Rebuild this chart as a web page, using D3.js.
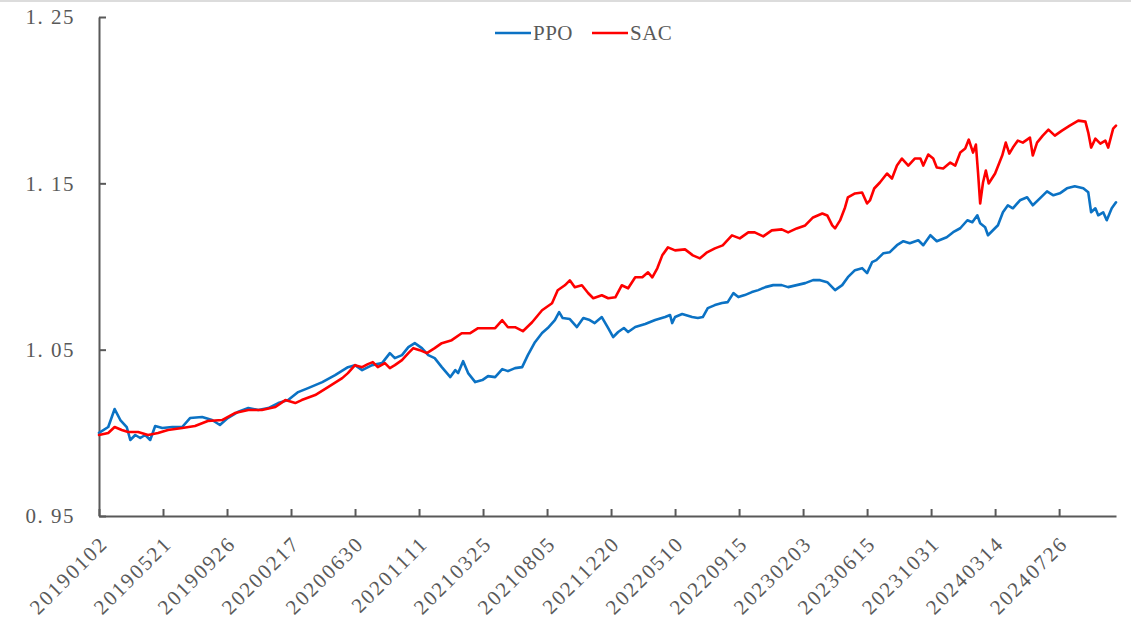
<!DOCTYPE html>
<html>
<head>
<meta charset="utf-8">
<script src="https://cdn.jsdelivr.net/npm/d3@7"></script>
<style>
  html, body { margin: 0; padding: 0; background: #fff; }
  svg { display: block; }
  text { font-family: "Liberation Serif", "DejaVu Serif", serif; fill: #595959; }
</style>
</head>
<body>
<svg id="chart" width="1131" height="627"></svg>
<script>
// ---- data (trading-day index from 20190102, net value) ----
const tickLabels = ["20190102","20190521","20190926","20200217","20200630","20201111","20210325","20210805","20211220","20220510","20220915","20230203","20230615","20231031","20240314","20240726"];
const tickStep = 90;          // trading days between labelled ticks
const lastDay = 1430;         // index of last trading day
const yTicks = [0.95, 1.05, 1.15, 1.25];
const yTickLabels = ["0. 95", "1. 05", "1. 15", "1. 25"];
const seriesNames = ["PPO", "SAC"];

const ppoDay = [0,13,22,30,39,44,51,58,65,72,79,89,103,117,128,145,159,170,181,195,210,224,238,252,266,280,294,314,332,350,360,370,384,398,409,416,426,435,444,454,463,472,482,494,501,505,512,519,529,539,547,557,567,575,585,595,603,613,623,631,641,647,652,662,672,681,690,697,707,716,723,730,738,744,754,768,782,796,803,806,810,820,834,842,849,856,866,876,884,892,899,908,918,927,937,948,960,969,981,993,1004,1014,1024,1035,1045,1053,1063,1073,1080,1087,1093,1103,1112,1122,1131,1140,1152,1159,1169,1178,1192,1201,1211,1221,1228,1235,1239,1246,1250,1257,1264,1271,1278,1285,1295,1305,1313,1323,1333,1342,1351,1361,1372,1384,1391,1395,1401,1405,1412,1417,1424,1430];
const ppoVal = [1.0000,1.0035,1.0143,1.0077,1.0035,0.9957,0.9987,0.9969,0.9987,0.9957,1.0041,1.0029,1.0035,1.0035,1.0089,1.0095,1.0077,1.0047,1.0089,1.0125,1.0149,1.0137,1.0149,1.0179,1.0197,1.0245,1.0269,1.0305,1.0347,1.0395,1.0407,1.0377,1.0407,1.0419,1.0479,1.0449,1.0467,1.0515,1.0539,1.0509,1.0467,1.0449,1.0395,1.0335,1.0377,1.0359,1.0431,1.0359,1.0305,1.0317,1.0341,1.0335,1.0383,1.0371,1.0389,1.0395,1.0467,1.0545,1.0600,1.0630,1.0678,1.0726,1.0690,1.0684,1.0636,1.0690,1.0678,1.0660,1.0696,1.0630,1.0576,1.0606,1.0630,1.0606,1.0636,1.0654,1.0678,1.0696,1.0708,1.0660,1.0696,1.0714,1.0696,1.0690,1.0696,1.0750,1.0768,1.0780,1.0786,1.0840,1.0816,1.0828,1.0846,1.0858,1.0876,1.0888,1.0888,1.0876,1.0888,1.0900,1.0918,1.0918,1.0906,1.0858,1.0888,1.0936,1.0978,1.0990,1.0960,1.1026,1.1038,1.1080,1.1086,1.1128,1.1152,1.1140,1.1158,1.1128,1.1188,1.1152,1.1176,1.1206,1.1230,1.1278,1.1266,1.1308,1.1260,1.1236,1.1188,1.1218,1.1248,1.1326,1.1368,1.1350,1.1398,1.1416,1.1368,1.1410,1.1452,1.1428,1.1440,1.1470,1.1482,1.1470,1.1446,1.1326,1.1350,1.1308,1.1326,1.1278,1.1350,1.1386];

const sacDay = [0,13,22,32,41,55,69,83,97,117,135,153,173,191,210,229,248,262,276,285,304,322,342,350,360,370,378,385,392,402,409,416,426,435,442,451,461,472,482,496,510,522,533,547,557,567,575,585,596,609,623,637,645,655,662,669,679,688,695,707,716,726,735,744,754,764,772,778,785,792,800,810,824,835,845,855,866,877,890,901,913,922,934,946,960,969,981,993,1004,1017,1024,1031,1035,1042,1049,1053,1063,1073,1080,1084,1090,1098,1108,1115,1122,1129,1138,1147,1155,1159,1166,1173,1178,1187,1197,1204,1211,1218,1223,1229,1233,1236,1239,1243,1247,1251,1260,1270,1275,1280,1285,1292,1299,1309,1313,1319,1327,1335,1344,1354,1365,1377,1387,1391,1395,1401,1408,1415,1419,1426,1430];
const sacVal = [0.9987,0.9999,1.0035,1.0017,1.0005,1.0005,0.9987,0.9999,1.0017,1.0029,1.0041,1.0071,1.0077,1.0119,1.0137,1.0137,1.0155,1.0197,1.0179,1.0197,1.0227,1.0275,1.0329,1.0359,1.0407,1.0395,1.0413,1.0425,1.0395,1.0419,1.0389,1.0407,1.0437,1.0479,1.0509,1.0497,1.0479,1.0509,1.0539,1.0557,1.0599,1.0599,1.0629,1.0629,1.0629,1.0677,1.0635,1.0635,1.0611,1.0665,1.0737,1.0779,1.0857,1.0887,1.0917,1.0875,1.0887,1.0839,1.0809,1.0827,1.0809,1.0815,1.0887,1.0869,1.0935,1.0935,1.0965,1.0935,1.0989,1.1067,1.1115,1.1097,1.1103,1.1067,1.1049,1.1085,1.1109,1.1127,1.1187,1.1169,1.1205,1.1205,1.1181,1.1217,1.1223,1.1205,1.1229,1.1247,1.1295,1.1319,1.1307,1.1247,1.1229,1.1277,1.1355,1.1415,1.1439,1.1445,1.1379,1.1397,1.1469,1.1505,1.1559,1.1529,1.1607,1.1649,1.1607,1.1649,1.1649,1.1607,1.1673,1.1649,1.1595,1.1589,1.1625,1.1607,1.1685,1.1709,1.1763,1.1685,1.1733,1.1565,1.1379,1.1505,1.1577,1.1499,1.1559,1.1667,1.1745,1.1679,1.1715,1.1757,1.1745,1.1775,1.1667,1.1745,1.1787,1.1823,1.1787,1.1817,1.1847,1.1877,1.1871,1.1805,1.1715,1.1769,1.1739,1.1757,1.1715,1.1829,1.1847];

const colors = ["#0B72C4", "#FF0000"];

// ---- layout ----
const svg = d3.select("#chart");
const mLeft = 99, mRight = 1116, mTop = 17, mBottom = 516;

const x = d3.scaleLinear().domain([0, lastDay]).range([mLeft, mRight]);
const y = d3.scaleLinear().domain([0.95, 1.25]).range([mBottom, mTop]);

// thin top border like the reference
svg.append("rect").attr("x", 0).attr("y", 0).attr("width", 1131).attr("height", 2).attr("fill", "#dcdcdc");

const axisColor = "#595959";

// X axis
const xTickVals = tickLabels.map((d, i) => i * tickStep);
const xAxis = svg.append("g").attr("transform", `translate(0,${mBottom})`)
  .call(d3.axisBottom(x).tickValues(xTickVals).tickSizeInner(-7).tickSizeOuter(0).tickFormat(""));
xAxis.select(".domain").attr("stroke", axisColor).attr("stroke-width", 2);
xAxis.selectAll(".tick line").attr("stroke", axisColor).attr("stroke-width", 2);

svg.append("g").selectAll("text").data(tickLabels).join("text")
  .attr("transform", (d, i) => `translate(${x(i * tickStep) + 10},545) rotate(-45)`)
  .attr("text-anchor", "end")
  .style("font-size", "21px")
  .style("letter-spacing", "2px")
  .text(d => d);

// Y axis
const yAxis = svg.append("g").attr("transform", `translate(${mLeft},0)`)
  .call(d3.axisLeft(y).tickValues(yTicks).tickSizeInner(-7).tickSizeOuter(0).tickFormat(""));
yAxis.select(".domain").attr("stroke", axisColor).attr("stroke-width", 2);
yAxis.selectAll(".tick line").attr("stroke", axisColor).attr("stroke-width", 2);

svg.append("g").selectAll("text").data(yTicks).join("text")
  .attr("x", 75)
  .attr("y", d => y(d))
  .attr("dy", "0.35em")
  .attr("text-anchor", "end")
  .style("font-size", "21px")
  .style("letter-spacing", "1.5px")
  .text((d, i) => yTickLabels[i]);

// Lines
const line = d3.line().x(d => x(d[0])).y(d => y(d[1])).curve(d3.curveLinear);
const series = [
  d3.zip(ppoDay, ppoVal),
  d3.zip(sacDay, sacVal)
];
series.forEach((s, i) => {
  svg.append("path").datum(s)
    .attr("d", line)
    .attr("fill", "none")
    .attr("stroke", colors[i])
    .attr("stroke-width", 2.6)
    .attr("stroke-linejoin", "round")
    .attr("stroke-linecap", "round");
});

// Legend
const legendItems = [
  {name: seriesNames[0], color: colors[0], x0: 495},
  {name: seriesNames[1], color: colors[1], x0: 592}
];
const lg = svg.append("g");
legendItems.forEach(it => {
  lg.append("line").attr("x1", it.x0).attr("x2", it.x0 + 36).attr("y1", 33).attr("y2", 33)
    .attr("stroke", it.color).attr("stroke-width", 2.6);
  lg.append("text").attr("x", it.x0 + 38).attr("y", 33).attr("dy", "0.35em")
    .style("font-size", "21px").style("letter-spacing", "0.5px").text(it.name);
});
</script>
</body>
</html>
